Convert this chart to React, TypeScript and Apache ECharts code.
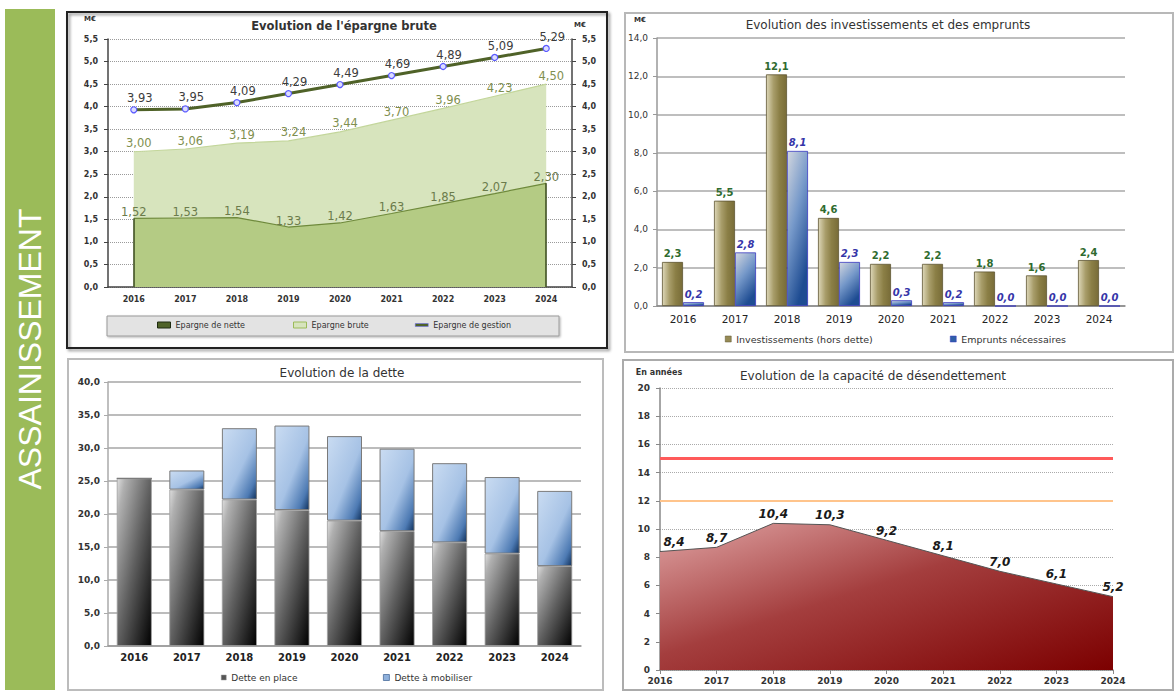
import React, { useEffect, useRef } from 'react';
import * as echarts from 'echarts';

// Years shared by the four charts
const years = ['2016', '2017', '2018', '2019', '2020', '2021', '2022', '2023', '2024'];

// Epargne (M€)
const epargneNette = [1.52, 1.53, 1.54, 1.33, 1.42, 1.63, 1.85, 2.07, 2.3];
const epargneBrute = [3.0, 3.06, 3.19, 3.24, 3.44, 3.7, 3.96, 4.23, 4.5];
const epargneGestion = [3.93, 3.95, 4.09, 4.29, 4.49, 4.69, 4.89, 5.09, 5.29];

// Investissements et emprunts (M€)
const investissements = [2.3, 5.5, 12.1, 4.6, 2.2, 2.2, 1.8, 1.6, 2.4];
const emprunts = [0.2, 2.8, 8.1, 2.3, 0.3, 0.2, 0.0, 0.0, 0.0];

// Dette (M€)
const detteEnPlace = [25.4, 23.7, 22.2, 20.6, 19.0, 17.4, 15.7, 14.0, 12.1];
const detteAMobiliser = [0, 2.9, 10.8, 12.8, 12.8, 12.5, 12.0, 11.6, 11.4];

// Capacité de désendettement (années) and thresholds
const capacite = [8.4, 8.7, 10.4, 10.3, 9.2, 8.1, 7.0, 6.1, 5.2];
const seuilRouge = 15;
const seuilOrange = 12;

const FONT = 'DejaVu Sans';
const fr = (v: number, d: number) => Number(v).toFixed(d).replace('.', ',');

export default function App() {
  const ref = useRef<HTMLDivElement>(null);

  useEffect(() => {
    const chart = echarts.init(ref.current!, null, { renderer: 'svg' });
    const LG = echarts.graphic.LinearGradient;

    const investGrad = new LG(0, 0, 1, 0, [
      { offset: 0, color: '#ddd7b8' },
      { offset: 0.35, color: '#a89d6a' },
      { offset: 0.65, color: '#8b7f46' },
      { offset: 1, color: '#786c38' },
    ]);
    const empruntGrad = new LG(0, 0, 0.5, 1, [
      { offset: 0, color: '#d3d7df' },
      { offset: 0.5, color: '#7598c9' },
      { offset: 1, color: '#1e4c92' },
    ]);
    const grayGrad = new LG(0, 0, 1, 1, [
      { offset: 0, color: '#dedede' },
      { offset: 0.12, color: '#b0b0b0' },
      { offset: 0.5, color: '#606060' },
      { offset: 1, color: '#000000' },
    ]);
    const blueGrad = new LG(0, 0, 1, 1, [
      { offset: 0, color: '#cadcf2' },
      { offset: 0.55, color: '#a6c2e5' },
      { offset: 0.85, color: '#4d7ab3' },
      { offset: 1, color: '#10315c' },
    ]);
    const redGrad = new LG(0, 0, 1, 1, [
      { offset: 0, color: '#e0a4a4' },
      { offset: 0.45, color: '#a43e3e' },
      { offset: 1, color: '#7c0000' },
    ]);

    // invisible point markers so that line series can carry value labels
    const hiddenMarker = { symbol: 'circle', symbolSize: 1, showSymbol: true, itemStyle: { color: 'rgba(0,0,0,0)' } };

    const last = years.length - 1;

    const valueAxisBase = (grid: number, min: number, max: number, interval: number) => ({
      type: 'value',
      gridIndex: grid,
      min,
      max,
      interval,
    });

    const title = (text: string, x: number, y: number, bold: boolean) => ({
      type: 'text',
      x,
      y,
      z: 5,
      style: {
        text,
        fill: '#333',
        fontFamily: FONT,
        fontSize: bold ? 11.5 : 12,
        fontWeight: bold ? 'bold' : 'normal',
        align: 'center',
        verticalAlign: 'middle',
      },
    });

    const smallText = (text: string, x: number, y: number, size: number) => ({
      type: 'text',
      x,
      y,
      z: 5,
      style: {
        text,
        fill: '#333',
        fontFamily: FONT,
        fontSize: size,
        fontWeight: 'bold',
        align: 'center',
        verticalAlign: 'middle',
      },
    });

    const frame = (x: number, y: number, w: number, h: number, color: string, width: number, shadow = false) => ({
      type: 'rect',
      z: 0,
      shape: { x, y, width: w, height: h },
      style: {
        fill: 'none',
        stroke: color,
        lineWidth: width,
        shadowBlur: shadow ? 3 : 0,
        shadowOffsetX: shadow ? 2 : 0,
        shadowOffsetY: shadow ? 2 : 0,
        shadowColor: shadow ? 'rgba(0,0,0,0.45)' : 'transparent',
      },
    });

    const legend = (name: string, left: number, top: number, size: number, w: number, h: number, itemStyle: any) => ({
      data: [{ name, icon: 'rect', itemStyle }],
      left,
      top,
      padding: 0,
      itemWidth: w,
      itemHeight: h,
      selectedMode: false,
      z: 10,
      textStyle: { fontFamily: FONT, fontSize: size, color: '#333' },
    });

    const option: any = {
      animation: false,
      backgroundColor: '#ffffff',
      grid: [
        { left: 108, top: 39, width: 464, height: 248 },
        { left: 657, top: 38, width: 468, height: 268 },
        { left: 108, top: 382, width: 473, height: 264 },
        { left: 660, top: 388, width: 453, height: 282 },
      ],
      xAxis: [
        {
          type: 'category', gridIndex: 0, data: years,
          axisLine: { lineStyle: { color: '#444', width: 1.5 } },
          axisTick: { length: 4, lineStyle: { color: '#444' } },
          axisLabel: { interval: 0, fontFamily: FONT, fontSize: 8, fontWeight: 'bold', color: '#333', margin: 8 },
        },
        {
          type: 'category', gridIndex: 1, data: years,
          axisLine: { lineStyle: { color: '#888', width: 1.5 } },
          axisTick: { length: 4, lineStyle: { color: '#888' } },
          axisLabel: { interval: 0, fontFamily: FONT, fontSize: 10.5, color: '#222', margin: 7 },
        },
        {
          type: 'category', gridIndex: 2, data: years,
          axisLine: { lineStyle: { color: '#999', width: 1.5 } },
          axisTick: { length: 4, lineStyle: { color: '#999' } },
          axisLabel: { interval: 0, fontFamily: FONT, fontSize: 10, fontWeight: 'bold', color: '#222', margin: 6 },
        },
        {
          type: 'category', gridIndex: 3, data: years, boundaryGap: false,
          axisLine: { lineStyle: { color: '#888', width: 1.5 } },
          axisTick: { length: 4, lineStyle: { color: '#888' } },
          axisLabel: { interval: 0, fontFamily: FONT, fontSize: 9, fontWeight: 'bold', color: '#333', margin: 6 },
        },
      ],
      yAxis: [
        {
          ...valueAxisBase(0, 0, 5.5, 0.5),
          axisLine: { show: true, lineStyle: { color: '#444', width: 1.5 } },
          axisTick: { show: true, length: 4, lineStyle: { color: '#444' } },
          axisLabel: { formatter: (v: number) => fr(v, 1), fontFamily: FONT, fontSize: 8, fontWeight: 'bold', color: '#333', margin: 10 },
          splitLine: { lineStyle: { color: '#9a9a9a', type: 'dotted', width: 1 } },
        },
        {
          ...valueAxisBase(0, 0, 5.5, 0.5),
          position: 'right',
          axisLine: { show: true, lineStyle: { color: '#444', width: 1.5 } },
          axisTick: { show: true, length: 4, lineStyle: { color: '#444' } },
          axisLabel: { formatter: (v: number) => fr(v, 1), fontFamily: FONT, fontSize: 8, fontWeight: 'bold', color: '#333', margin: 10 },
          splitLine: { show: false },
        },
        {
          ...valueAxisBase(1, 0, 14, 2),
          axisLine: { show: true, lineStyle: { color: '#999', width: 1.5 } },
          axisTick: { show: true, length: 4, lineStyle: { color: '#999' } },
          axisLabel: { formatter: (v: number) => fr(v, 1), fontFamily: FONT, fontSize: 9, color: '#333', margin: 9 },
          splitLine: { lineStyle: { color: '#a8a8a8', width: 1.5 } },
        },
        {
          ...valueAxisBase(2, 0, 40, 5),
          axisLine: { show: true, lineStyle: { color: '#aaa', width: 1.5 } },
          axisTick: { show: true, length: 4, lineStyle: { color: '#aaa' } },
          axisLabel: { formatter: (v: number) => fr(v, 1), fontFamily: FONT, fontSize: 9, fontWeight: 'bold', color: '#333', margin: 8 },
          splitLine: { lineStyle: { color: '#a6a6a6', width: 1.5 } },
        },
        {
          ...valueAxisBase(3, 0, 20, 2),
          axisLine: { show: true, lineStyle: { color: '#888', width: 1.5 } },
          axisTick: { show: true, length: 4, lineStyle: { color: '#888' } },
          axisLabel: { fontFamily: FONT, fontSize: 9, fontWeight: 'bold', color: '#333', margin: 10 },
          splitLine: { lineStyle: { color: '#aaa', type: 'dotted', width: 1 } },
        },
      ],
      legend: [
        legend('Epargne de nette', 157, 321, 8, 13, 6, { color: '#4f6228', borderColor: '#1e2a10', borderWidth: 1 }),
        legend('Epargne brute', 293, 321, 8, 13, 6, { color: '#d7e4bd', borderColor: '#9bbb59', borderWidth: 1 }),
        legend('Epargne de gestion', 415, 321, 8, 13, 3, { color: '#4f6228', borderColor: '#6666ff', borderWidth: 0.5 }),
        legend('Investissements (hors dette)', 725, 334, 9.5, 6, 6, { color: '#968a55', borderColor: '#5e5632', borderWidth: 0.5 }),
        legend('Emprunts nécessaires', 950, 334, 9.5, 6, 6, { color: '#2f5fa8', borderColor: '#3a3ac0', borderWidth: 0.5 }),
        legend('Dette en place', 221, 673, 9, 5, 5, { color: '#555', borderColor: '#999', borderWidth: 0.5 }),
        legend('Dette à mobiliser', 383, 673, 9, 6, 6, { color: '#8fb1dc', borderColor: '#4a6d9c', borderWidth: 0.8 }),
      ],
      graphic: [
        { type: 'rect', z: 0, shape: { x: 5, y: 9, width: 50, height: 681 }, style: { fill: '#9bbb59' } },
        {
          type: 'text', x: 30, y: 349, rotation: Math.PI / 2, z: 1,
          style: { text: 'ASSAINISSEMENT', fill: '#ffffff', fontFamily: 'Liberation Sans', fontSize: 32, align: 'center', verticalAlign: 'middle' },
        },
        frame(67, 12, 540, 336, '#222', 2, true),
        {
          type: 'rect', z: 1, shape: { x: 107, y: 316, width: 452, height: 20 },
          style: { fill: '#e3e3e3', stroke: '#9a9a9a', lineWidth: 1, shadowBlur: 2, shadowOffsetX: 1, shadowOffsetY: 1, shadowColor: 'rgba(0,0,0,0.3)' },
        },
        frame(625, 13, 548, 339, '#b8b8b8', 2),
        frame(68, 359, 535, 331, '#bcbcbc', 2),
        frame(623, 360, 550, 330, '#ababab', 2),
        title("Evolution de l'épargne brute", 344, 26, true),
        title('Evolution des investissements et des emprunts', 888, 25, false),
        title('Evolution de la dette', 342, 373, false),
        title('Evolution de la capacité de désendettement', 873, 376, false),
        smallText('M€', 90, 19, 7),
        smallText('M€', 580, 25, 7),
        smallText('M€', 640, 20, 7),
        smallText('En années', 659, 372, 8),
      ],
      series: [
        {
          name: 'Epargne brute', type: 'line', xAxisIndex: 0, yAxisIndex: 0, data: epargneBrute,
          ...hiddenMarker, z: 2,
          lineStyle: { color: '#c3d69b', width: 1.2 },
          areaStyle: { color: '#d7e4bd', opacity: 1 },
          label: {
            show: true, position: 'top', distance: 2, offset: [5, 0],
            formatter: (p: any) => fr(p.value, 2),
            fontFamily: FONT, fontSize: 11.5, color: '#7f8f4f',
          },
        },
        {
          name: 'Epargne de nette', type: 'line', xAxisIndex: 0, yAxisIndex: 0, data: epargneNette,
          ...hiddenMarker, z: 3,
          lineStyle: { color: '#6f8a3c', width: 1.2 },
          areaStyle: { color: '#b4cb84', opacity: 1 },
          label: {
            show: true, position: 'top', distance: 0,
            formatter: (p: any) => fr(p.value, 2),
            fontFamily: FONT, fontSize: 11.5, color: '#6b7b4b',
          },
          // dark side edges of the area at the first and last year
          markLine: {
            silent: true,
            symbol: ['none', 'none'],
            label: { show: false },
            lineStyle: { color: '#3a4a1e', width: 1.5, type: 'solid' },
            data: [
              [{ coord: [0, 0] }, { coord: [0, epargneNette[0]] }],
              [{ coord: [last, 0] }, { coord: [last, epargneNette[last]] }],
            ],
          },
        },
        {
          name: 'Epargne de gestion', type: 'line', xAxisIndex: 0, yAxisIndex: 0, data: epargneGestion,
          symbol: 'circle', symbolSize: 6, z: 4,
          lineStyle: { color: '#4f6228', width: 3 },
          itemStyle: { color: '#dcdcff', borderColor: '#5b5bff', borderWidth: 1.2 },
          label: {
            show: true, position: 'top', distance: 2, offset: [6, 0],
            formatter: (p: any) => fr(p.value, 2),
            fontFamily: FONT, fontSize: 11.5, color: '#3c3c3c',
          },
        },
        {
          name: 'Investissements (hors dette)', type: 'bar', xAxisIndex: 1, yAxisIndex: 2, data: investissements,
          barWidth: 21, barGap: '0%',
          itemStyle: { color: investGrad, borderColor: '#5e5632', borderWidth: 0.8 },
          label: {
            show: true, position: 'top', distance: 3,
            formatter: (p: any) => fr(p.value, 1),
            fontFamily: FONT, fontSize: 10, fontWeight: 'bold', color: '#2f6b2f',
          },
        },
        {
          name: 'Emprunts nécessaires', type: 'bar', xAxisIndex: 1, yAxisIndex: 2, data: emprunts,
          barWidth: 21,
          itemStyle: { color: empruntGrad, borderColor: '#3a3ac0', borderWidth: 0.8 },
          label: {
            show: true, position: 'top', distance: 3,
            formatter: (p: any) => fr(p.value, 1),
            fontFamily: FONT, fontSize: 10, fontWeight: 'bold', fontStyle: 'italic', color: '#3535a8',
          },
        },
        {
          name: 'Dette en place', type: 'bar', xAxisIndex: 2, yAxisIndex: 3, data: detteEnPlace,
          stack: 'dette', barWidth: 35,
          itemStyle: { color: grayGrad, borderColor: '#a0a0a0', borderWidth: 0.8 },
        },
        {
          name: 'Dette à mobiliser', type: 'bar', xAxisIndex: 2, yAxisIndex: 3, data: detteAMobiliser,
          stack: 'dette', barWidth: 35,
          itemStyle: { color: blueGrad, borderColor: '#7a7a7a', borderWidth: 1 },
        },
        {
          name: 'Capacité de désendettement', type: 'line', xAxisIndex: 3, yAxisIndex: 4,
          data: capacite.map((v, i) => (i === 0 ? { value: v, label: { offset: [14, 0] } } : v)),
          ...hiddenMarker, z: 3,
          lineStyle: { color: '#555', width: 1 },
          areaStyle: { color: redGrad, opacity: 1 },
          label: {
            show: true, position: 'top', distance: 3,
            formatter: (p: any) => fr(p.value, 1),
            fontFamily: FONT, fontSize: 12, fontWeight: 'bold', fontStyle: 'italic', color: '#1a1a1a',
          },
          markLine: {
            silent: true,
            symbol: ['none', 'none'],
            label: { show: false },
            data: [
              { yAxis: seuilRouge, lineStyle: { color: '#ff5a5a', width: 3, type: 'solid' } },
              { yAxis: seuilOrange, lineStyle: { color: '#ffc48c', width: 2, type: 'solid' } },
            ],
          },
        },
      ],
    };

    chart.setOption(option);
    return () => chart.dispose();
  }, []);

  return (
    <div
      ref={ref}
      style={{ position: 'absolute', left: 0, top: 0, width: 1176, height: 697 }}
    />
  );
}
